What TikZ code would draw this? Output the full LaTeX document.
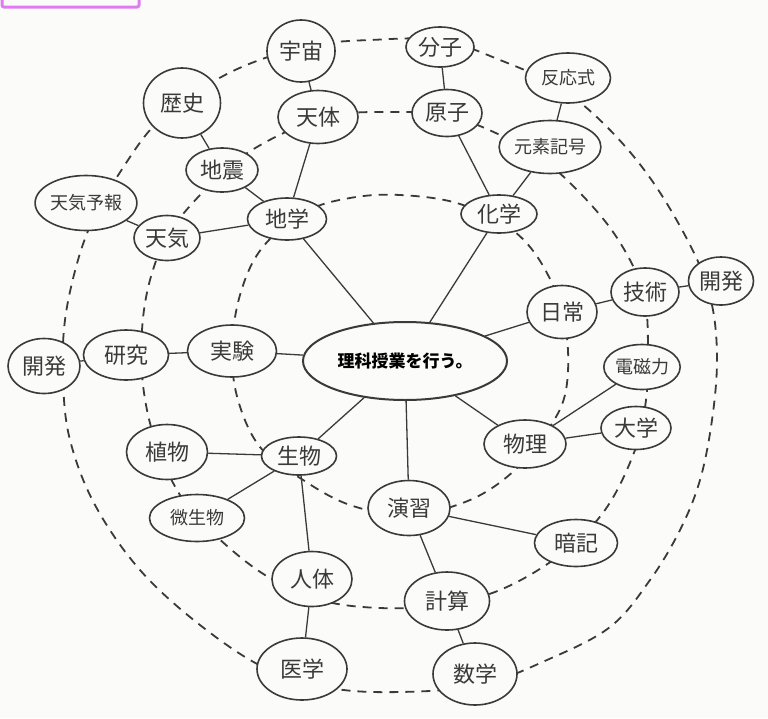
\documentclass[tikz,border=0pt]{standalone}
\usepackage{fontspec}
\newfontfamily\cjk{Noto Sans CJK JP}
\usetikzlibrary{shapes.geometric}
\definecolor{ink}{HTML}{3A3A3A}
\definecolor{paper}{HTML}{FBFBFA}
\definecolor{tab}{HTML}{E07CF0}
\begin{document}
\begin{tikzpicture}[x=1pt,y=-1pt,
  bub/.style 2 args={ellipse, draw=ink, line width=1.6pt, fill=paper, inner sep=0pt,
    minimum width=#1pt, minimum height=#2pt, text=ink,
    font=\cjk\fontsize{22}{24}\selectfont},
  small/.style={font=\cjk\fontsize{18}{20}\selectfont},
  link/.style={draw=ink, line width=1.3pt},
  ring/.style={draw=ink, line width=1.8pt, dash pattern=on 9pt off 7pt},
]
\useasboundingbox (0,0) rectangle (768,718);
\clip (0,0) rectangle (768,718);
\fill[paper] (0,0) rectangle (768,718);

% tab frame at the top left corner
\draw[tab, line width=3pt, rounded corners=2pt] (2,-10) rectangle (139,7);

% dashed rings
\draw[ring] plot[smooth cycle, tension=0.6] coordinates {
  (400,195) (460,204) (515,232) (548,275) (566,330) (566,390) (548,430)
  (515,470) (470,500) (409,515) (350,505) (300,478) (260,447) (238,400)
  (232,350) (240,295) (262,248) (305,212) (350,198)};
\draw[ring] plot[smooth cycle, tension=0.6] coordinates {
  (385,112) (445,115) (500,135) (550,165) (600,215) (630,260) (645,300)
  (648,350) (646,400) (635,450) (605,510) (560,555) (500,590) (440,605)
  (380,608) (320,600) (265,575) (215,535) (180,495) (155,440) (143,385)
  (142,330) (150,280) (168,235) (200,195) (240,158) (290,130) (335,115)};
\draw[ring] plot[smooth cycle, tension=0.6] coordinates {
  (370,40) (440,40) (500,60) (560,88) (610,130) (655,185) (695,255)
  (712,305) (717,360) (712,420) (700,480) (680,530) (650,580) (610,627)
  (547,660) (480,685) (400,692) (330,688) (265,668) (200,625) (140,570)
  (95,505) (70,440) (63,380) (65,320) (78,260) (95,215) (117,177)
  (150,130) (185,100) (225,75) (265,58) (310,45)};

% centre
\node[bub={204}{78}, line width=2pt, text=black,
      font=\cjk\bfseries\fontsize{17}{19}\selectfont] (core) at (405,361) {理科授業を行う。};

% first ring
\node[bub={79}{42}] (chigaku) at (287,219) {地学};
\node[bub={76}{38}] (kagaku) at (499,214) {化学};
\node[bub={70}{53}] (nichijo) at (562,312) {日常};
\node[bub={82}{48}] (butsuri) at (525,444) {物理};
\node[bub={82}{55}] (enshu) at (409,508) {演習};
\node[bub={75}{38}] (seibutsu) at (299,456) {生物};
\node[bub={89}{52}] (jikken) at (232,351) {実験};

% second ring
\node[bub={72}{44}] (jishin) at (222,170) {地震};
\node[bub={80}{53}] (tentai) at (318,117) {天体};
\node[bub={70}{47}] (genshi) at (447,113) {原子};
\node[bub={97}{53}, small] (genso) at (550,147) {元素記号};
\node[bub={68}{48}] (gijutsu) at (645,292) {技術};
\node[bub={73}{45}, small] (denji) at (642,367) {電磁力};
\node[bub={70}{43}] (daigaku) at (636,428) {大学};
\node[bub={83}{47}] (anki) at (576,543) {暗記};
\node[bub={85}{58}] (keisan) at (447,601) {計算};
\node[bub={80}{55}] (jintai) at (312,579) {人体};
\node[bub={95}{47}, small] (biseibutsu) at (197,518) {微生物};
\node[bub={81}{55}] (shokubutsu) at (167,452) {植物};
\node[bub={85}{50}] (kenkyu) at (126,355) {研究};
\node[bub={66}{45}] (tenki) at (167,238) {天気};

% third ring
\node[bub={68}{62}] (uchu) at (301,51) {宇宙};
\node[bub={68}{40}] (bunshi) at (440,47) {分子};
\node[bub={85}{50}, small] (hanno) at (568,78) {反応式};
\node[bub={65}{48}] (kaihatsuR) at (721,281) {開発};
\node[bub={84}{62}] (sugaku) at (475,674) {数学};
\node[bub={90}{62}] (igaku) at (302,669) {医学};
\node[bub={72}{55}] (kaihatsuL) at (44,366) {開発};
\node[bub={95}{55}, small] (yoho) at (86,203) {天気予報};
\node[bub={77}{70}] (rekishi) at (182,103) {歴史};

% branches
\foreach \a/\b in {core/chigaku, core/kagaku, core/nichijo, core/butsuri,
  core/enshu, core/seibutsu, core/jikken,
  chigaku/jishin, chigaku/tentai, chigaku/tenki,
  jishin/rekishi, tentai/uchu, tenki/yoho,
  kagaku/genshi, kagaku/genso, genshi/bunshi, genso/hanno,
  nichijo/gijutsu, gijutsu/kaihatsuR,
  butsuri/denji, butsuri/daigaku,
  enshu/anki, enshu/keisan, keisan/sugaku,
  seibutsu/shokubutsu, seibutsu/biseibutsu, seibutsu/jintai, jintai/igaku,
  jikken/kenkyu, kenkyu/kaihatsuL}
  \draw[link] (\a) -- (\b);
\end{tikzpicture}
\end{document}
